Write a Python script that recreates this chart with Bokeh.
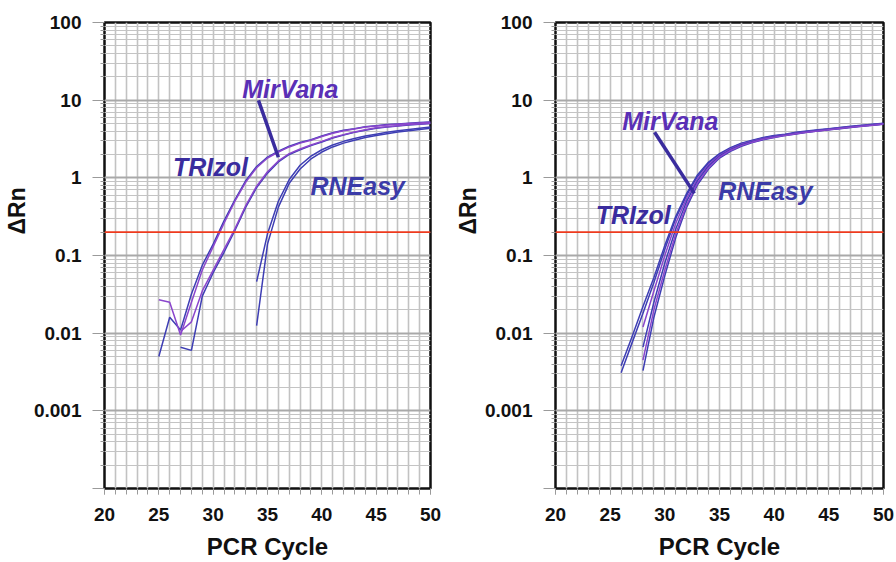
import math
from bokeh.plotting import figure
from bokeh.layouts import row
from bokeh.models import (FixedTicker, SingleIntervalTicker, Range1d, Span, Title,
                          CustomJSTickFormatter, ColumnDataSource)
from bokeh.embed import file_html
from bokeh.resources import INLINE
from bokeh.core.properties import value

# ---------------- data ----------------
threshold = 0.2
x_ticks = [20, 25, 30, 35, 40, 45, 50]
y_decades = [0.0001, 0.001, 0.01, 0.1, 1, 10, 100]

# Left panel (ΔRn vs PCR cycle)
L_tri1_x = list(range(25, 51))
L_tri1_y = [0.005, 0.016, 0.011, 0.032, 0.075, 0.14, 0.28, 0.52, 0.92, 1.4, 1.85, 2.2, 2.55,
            2.85, 3.1, 3.45, 3.8, 4.1, 4.3, 4.55, 4.7, 4.85, 4.95, 5.05, 5.15, 5.25]
L_tri2_x = list(range(25, 51))
L_tri2_y = [0.027, 0.025, 0.0095, 0.025, 0.065, 0.13, 0.26, 0.5, 0.88, 1.35, 1.8, 2.15, 2.5,
            2.8, 3.05, 3.4, 3.75, 4.05, 4.25, 4.5, 4.65, 4.8, 4.9, 5.0, 5.1, 5.2]
L_mir1_x = list(range(27, 51))
L_mir1_y = [0.0066, 0.006, 0.03, 0.06, 0.11, 0.21, 0.42, 0.75, 1.15, 1.6, 2.0, 2.3, 2.6,
            2.9, 3.25, 3.55, 3.85, 4.1, 4.35, 4.5, 4.65, 4.8, 4.9, 5.0]
L_mir2_x = list(range(27, 51))
L_mir2_y = [0.0105, 0.014, 0.035, 0.065, 0.12, 0.22, 0.44, 0.78, 1.2, 1.65, 2.05, 2.35, 2.65,
            2.95, 3.3, 3.6, 3.9, 4.15, 4.4, 4.55, 4.7, 4.85, 4.95, 5.05]
L_rne1_x = list(range(34, 51))
L_rne1_y = [0.0125, 0.14, 0.42, 0.85, 1.3, 1.75, 2.15, 2.5, 2.8, 3.05, 3.3, 3.5, 3.7, 3.9,
            4.05, 4.2, 4.35]
L_rne2_x = list(range(34, 51))
L_rne2_y = [0.046, 0.19, 0.5, 0.95, 1.45, 1.9, 2.3, 2.65, 2.95, 3.2, 3.45, 3.65, 3.85, 4.05,
            4.2, 4.35, 4.5]

# Right panel
R_tri1_x = list(range(26, 51))
R_tri1_y = [0.0031, 0.0075, 0.018, 0.045, 0.12, 0.3, 0.6, 1.05, 1.55, 2.0, 2.4, 2.75, 3.0,
            3.25, 3.45, 3.6, 3.8, 3.95, 4.1, 4.25, 4.4, 4.55, 4.7, 4.85, 5.0]
R_tri2_x = list(range(26, 51))
R_tri2_y = [0.0038, 0.009, 0.022, 0.052, 0.135, 0.32, 0.63, 1.1, 1.6, 2.05, 2.45, 2.8, 3.05,
            3.3, 3.5, 3.65, 3.85, 4.0, 4.15, 4.3, 4.45, 4.6, 4.75, 4.9, 5.05]
R_mir1_x = list(range(28, 51))
R_mir1_y = [0.012, 0.035, 0.1, 0.26, 0.55, 0.98, 1.48, 1.95, 2.35, 2.7, 2.95, 3.2, 3.4,
            3.58, 3.75, 3.92, 4.08, 4.22, 4.38, 4.52, 4.68, 4.82, 4.97]
R_mir2_x = list(range(28, 51))
R_mir2_y = [0.0066, 0.025, 0.08, 0.22, 0.5, 0.92, 1.42, 1.9, 2.3, 2.65, 2.92, 3.17, 3.38,
            3.55, 3.72, 3.9, 4.05, 4.2, 4.35, 4.5, 4.65, 4.8, 4.95]
R_rne1_x = list(range(28, 51))
R_rne1_y = [0.0033, 0.016, 0.055, 0.17, 0.42, 0.82, 1.3, 1.8, 2.2, 2.55, 2.85, 3.1, 3.3,
            3.5, 3.68, 3.85, 4.0, 4.15, 4.3, 4.45, 4.6, 4.75, 4.9]
R_rne2_x = list(range(28, 51))
R_rne2_y = [0.0045, 0.02, 0.065, 0.19, 0.45, 0.86, 1.35, 1.85, 2.25, 2.6, 2.88, 3.13, 3.33,
            3.52, 3.7, 3.87, 4.02, 4.17, 4.32, 4.47, 4.62, 4.77, 4.92]

# annotation texts and anchor positions (data units)
L_label_text = ["MirVana", "TRIzol", "RNEasy"]
L_label_x = [37.1, 29.75, 43.3]
L_label_y = [13.8, 1.37, 0.78]
L_callout_x = [34.17, 36.0]
L_callout_y = [9.93, 1.84]

R_label_text = ["MirVana", "RNEasy", "TRIzol"]
R_label_x = [30.5, 39.2, 27.1]
R_label_y = [5.33, 0.67, 0.33]
R_callout_x = [29.06, 32.7]
R_callout_y = [3.86, 0.63]

label_colors = {"MirVana": "#5a2fb6", "TRIzol": "#3a2c9e", "RNEasy": "#3b3ba8"}
BLUE = "#3e3eb4"
PURPLE = "#8a46cc"
FONT = "Liberation Sans"


def make_panel(curves, lab_text, lab_x, lab_y, cx, cy, left_border, right_border,
               frame_w):
    minors = [k * d for d in y_decades[:-1] for k in range(2, 10)]
    p = figure(width=left_border + frame_w + right_border, height=562,
               x_range=Range1d(20, 50), y_range=Range1d(1e-4, 100),
               y_axis_type="log", output_backend="svg", toolbar_location=None,
               min_border_left=left_border, min_border_right=right_border,
               min_border_top=22, min_border_bottom=73)
    p.background_fill_color = "white"
    p.border_fill_color = "white"
    p.outline_line_color = "#111111"
    p.outline_line_width = 2.5

    # grids
    p.xgrid.ticker = SingleIntervalTicker(interval=1)
    p.xgrid.grid_line_color = "#c2c2c2"
    p.xgrid.grid_line_width = 1.6
    yt = FixedTicker(ticks=y_decades, minor_ticks=minors)
    p.yaxis.ticker = yt
    p.ygrid.ticker = yt
    p.ygrid.grid_line_color = "#a9a9a9"
    p.ygrid.grid_line_width = 2.2
    p.ygrid.minor_grid_line_color = "#c4c4c4"
    p.ygrid.minor_grid_line_width = 1.2

    # axes
    p.xaxis.ticker = FixedTicker(ticks=x_ticks, minor_ticks=list(range(20, 51)))
    for ax in (p.xaxis, p.yaxis):
        ax.axis_line_color = None
        ax.major_tick_line_color = "#9a9a9a"
        ax.minor_tick_line_color = "#9a9a9a"
        ax.major_tick_in = 0
        ax.minor_tick_in = 0
        ax.major_label_text_font = FONT
        ax.major_label_text_font_style = "bold"
        ax.major_label_text_font_size = "19px"
        ax.major_label_text_color = "#111111"
    p.yaxis.major_tick_out = 12
    p.yaxis.minor_tick_out = 4
    p.yaxis.major_label_standoff = 11
    p.xaxis.major_tick_out = 6
    p.xaxis.minor_tick_out = 6
    p.xaxis.major_label_standoff = 13
    p.yaxis.formatter = CustomJSTickFormatter(
        code="return tick < 0.00015 ? '' : tick.toString();")

    p.xaxis.axis_label = "PCR Cycle"
    p.xaxis.axis_label_text_font = FONT
    p.xaxis.axis_label_text_font_style = "bold"
    p.xaxis.axis_label_text_font_size = "24px"
    p.xaxis.axis_label_text_color = "#111111"
    p.xaxis.axis_label_standoff = 9

    p.add_layout(Title(text="ΔRn", align="left", offset=254, standoff=2,
                       text_font=FONT, text_font_style="bold", text_font_size="23px",
                       text_color="#111111"), "left")

    # threshold
    p.add_layout(Span(location=threshold, dimension="width",
                      line_color="#ee3a1e", line_width=1.6))

    # curves
    for xs, ys, col in curves:
        p.line(xs, ys, line_color=col, line_width=1.5)

    # callout
    p.line(cx, cy, line_color="#3a2c9e", line_width=3.5)

    src = ColumnDataSource(dict(x=lab_x, y=lab_y, t=lab_text,
                                c=[label_colors[t] for t in lab_text]))
    p.text(x="x", y="y", text="t", text_color="c", source=src,
           text_font=value(FONT), text_font_style="bold italic",
           text_font_size="25px", text_align="center", text_baseline="middle")
    return p


left_curves = [(L_tri1_x, L_tri1_y, BLUE), (L_tri2_x, L_tri2_y, PURPLE),
               (L_mir1_x, L_mir1_y, BLUE), (L_mir2_x, L_mir2_y, PURPLE),
               (L_rne1_x, L_rne1_y, BLUE), (L_rne2_x, L_rne2_y, BLUE)]
right_curves = [(R_tri1_x, R_tri1_y, BLUE), (R_tri2_x, R_tri2_y, BLUE),
                (R_mir1_x, R_mir1_y, PURPLE), (R_mir2_x, R_mir2_y, BLUE),
                (R_rne1_x, R_rne1_y, BLUE), (R_rne2_x, R_rne2_y, PURPLE)]

p1 = make_panel(left_curves, L_label_text, L_label_x, L_label_y, L_callout_x, L_callout_y,
                104, 20, 326)
p2 = make_panel(right_curves, R_label_text, R_label_x, R_label_y, R_callout_x, R_callout_y,
                105, 13, 328)

layout = row(p1, p2)
open("out.html", "w").write(file_html(layout, INLINE))
